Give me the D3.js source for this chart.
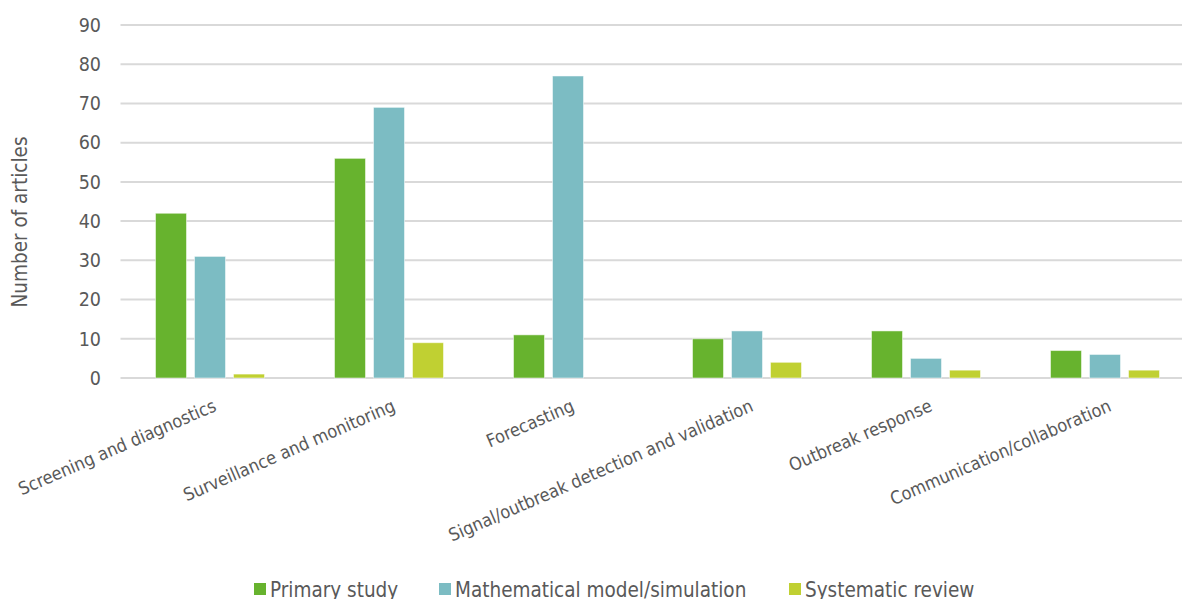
<!DOCTYPE html>
<html>
<head>
<meta charset="utf-8">
<script src="https://cdn.jsdelivr.net/npm/d3@7"></script>
<style>
  body { margin: 0; background: #fff; }
  svg { display: block; font-family: "DejaVu Sans Condensed", "DejaVu Sans", sans-serif; }
</style>
</head>
<body>
<svg width="1182" height="599"></svg>
<script>
// categories along the x axis
let categories = [
  "Screening and diagnostics",
  "Surveillance and monitoring",
  "Forecasting",
  "Signal/outbreak detection and validation",
  "Outbreak response",
  "Communication/collaboration"
];

let seriesNames = ["Primary study", "Mathematical model/simulation", "Systematic review"];

let primaryStudy = [42, 56, 11, 10, 12, 7];
let mathModel = [31, 69, 77, 12, 5, 6];
let systematicReview = [1, 9, 0, 4, 2, 2];

let yTicks = [0, 10, 20, 30, 40, 50, 60, 70, 80, 90];

let colors = ["#67b32e", "#7cbcc3", "#c0d032"];

let width = 1182;
let plotLeft = 120.5;
let plotTop = 25;
let plotBottom = 378;

let seriesValues = [primaryStudy, mathModel, systematicReview];

let svg = d3.select('svg');

let yScale = d3.scaleLinear()
  .domain([0, 90])
  .range([plotBottom, plotTop]);

// plot area runs past the right edge of the picture
let x0 = d3.scaleBand()
  .domain(categories)
  .range([plotLeft, plotLeft + 6 * 179]);

let x1 = d3.scaleBand()
  .domain(seriesNames)
  .range([35, 144])
  .paddingInner(0.205);

// gridlines
svg.append('g')
  .selectAll('line')
  .data(yTicks)
  .enter()
  .append('line')
  .attr('x1', plotLeft)
  .attr('x2', width)
  .attr('y1', d => yScale(d))
  .attr('y2', d => yScale(d))
  .style('stroke', '#d9d9d9')
  .style('stroke-width', 2);

let yAxis = d3.axisLeft(yScale)
  .tickValues(yTicks)
  .tickSize(0)
  .tickPadding(0);

svg.append('g')
  .attr('transform', 'translate(101,0)')
  .call(yAxis)
  .call(g => g.select('.domain').remove())
  .selectAll('text')
  .style('font-size', '19.5px')
  .style('font-family', '"DejaVu Sans Condensed", "DejaVu Sans", sans-serif')
  .style('fill', '#595959');

// bars
let rows = categories.map((c, i) => ({
  category: c,
  values: seriesNames.map((s, j) => ({ series: s, value: seriesValues[j][i], color: colors[j] }))
}));

svg.append('g')
  .selectAll('g')
  .data(rows)
  .enter()
  .append('g')
  .attr('transform', d => 'translate(' + x0(d.category) + ',0)')
  .selectAll('rect')
  .data(d => d.values.filter(v => v.value > 0))
  .enter()
  .append('rect')
  .attr('x', d => x1(d.series))
  .attr('width', x1.bandwidth())
  .attr('y', d => yScale(d.value))
  .attr('height', d => yScale(0) - yScale(d.value))
  .style('fill', d => d.color)
  .style('stroke', 'rgba(255,255,255,0.5)')
  .style('stroke-width', 1);

// category labels
svg.append('g')
  .selectAll('text')
  .data(categories)
  .enter()
  .append('text')
  .attr('transform', d => 'translate(' + (x0(d) + x0.bandwidth() / 2 + 2) + ',398) rotate(-23.5)')
  .attr('dy', '0.75em')
  .style('text-anchor', 'end')
  .style('font-size', '18px')
  .style('fill', '#595959')
  .text(d => d);

// y axis title
svg.append('text')
  .attr('transform', 'translate(27,' + 222 + ') rotate(-90)')
  .style('text-anchor', 'middle')
  .style('font-size', '20.5px')
  .style('fill', '#595959')
  .text('Number of articles');

// legend
let legendX = [254, 439, 789];
let legend = svg.append('g')
  .selectAll('g')
  .data(seriesNames)
  .enter()
  .append('g')
  .attr('transform', (d, i) => 'translate(' + legendX[i] + ',0)');

legend.append('rect')
  .attr('x', 0)
  .attr('y', 583)
  .attr('width', 12)
  .attr('height', 12)
  .style('fill', (d, i) => colors[i]);

legend.append('text')
  .attr('x', 16)
  .attr('y', 597)
  .style('font-size', '20.5px')
  .style('fill', '#595959')
  .text(d => d);
</script>
</body>
</html>
